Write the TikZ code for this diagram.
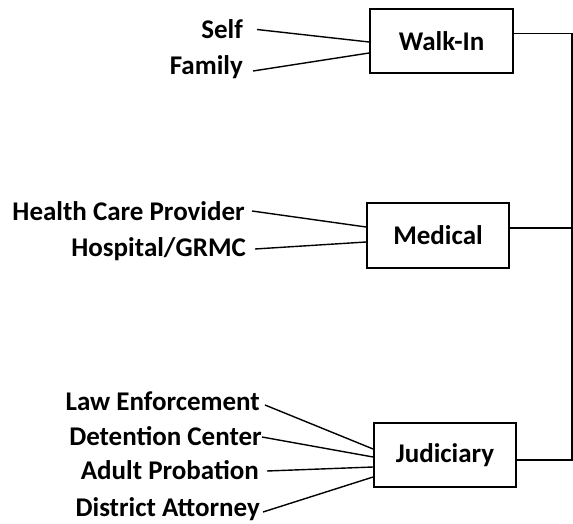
\documentclass[tikz,border=0pt]{standalone}
\usepackage{fontspec}
\setmainfont{Carlito}
\begin{document}
\begin{tikzpicture}[x=1pt,y=-1pt,
  lbl/.style={anchor=base east,inner sep=0pt,font=\bfseries\fontsize{27}{30}\selectfont},
  boxn/.style={draw,line width=1.8pt,inner sep=0pt,font=\bfseries\fontsize{27}{30}\selectfont},
  conn/.style={line width=1.4pt}]
\useasboundingbox (0,0) rectangle (573,524);
% boxes
\node[boxn,minimum width=143pt,minimum height=64pt] (walk) at (441.5,41) {Walk-In};
\node[boxn,minimum width=142pt,minimum height=65pt] (med) at (438,235.5) {Medical};
\node[boxn,minimum width=142pt,minimum height=64pt] (jud) at (445,455) {Judiciary};
% labels
\node[lbl] (self) at (243,39) {Self};
\node[lbl] (fam) at (243,75) {Family};
\node[lbl] (hcp) at (245,220) {Health Care Provider};
\node[lbl] (hosp) at (246,256) {Hospital/GRMC};
\node[lbl] (le) at (260,410) {Law Enforcement};
\node[lbl] (dc) at (262,445) {Detention Center};
\node[lbl] (ap) at (259,479) {Adult Probation};
\node[lbl] (da) at (260,516) {District Attorney};
% left connectors
\draw[conn] ([shift={(14pt,9.5pt)}]self.base east) -- ([yshift=-1pt]walk.west);
\draw[conn] ([shift={(10pt,4pt)}]fam.base east) -- ([yshift=-12pt]walk.west);
\draw[conn] ([shift={(7pt,9pt)}]hcp.base east) -- ([yshift=8.5pt]med.west);
\draw[conn] ([shift={(9pt,7pt)}]hosp.base east) -- ([yshift=-6.5pt]med.west);
\draw[conn] ([shift={(5pt,5pt)}]le.base east) -- ([yshift=6pt]jud.west);
\draw[conn] ([shift={(0pt,8pt)}]dc.base east) -- ([yshift=-2pt]jud.west);
\draw[conn] ([shift={(8pt,8pt)}]ap.base east) -- ([yshift=-12pt]jud.west);
\draw[conn] ([shift={(3pt,4pt)}]da.base east) -- ([yshift=-22pt]jud.west);
% right bus
\coordinate (bus) at (572,0);
\coordinate (wo) at ([yshift=7.5pt]walk.east);
\coordinate (mo) at ([yshift=7.5pt]med.east);
\coordinate (jo) at ([yshift=-5pt]jud.east);
\draw[conn] (wo) -- (wo -| bus) -- (jo -| bus) -- (jo);
\draw[conn] (mo) -- (mo -| bus);
\end{tikzpicture}
\end{document}
